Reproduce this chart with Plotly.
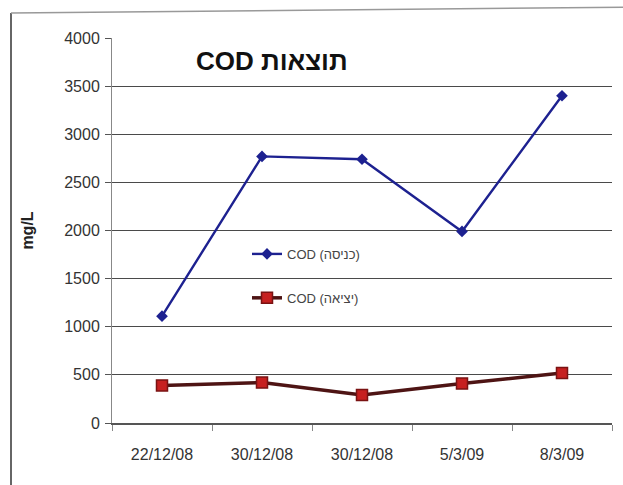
import plotly.graph_objects as go

# Sampling dates (two samples share the 30/12/08 date)
dates = ["22/12/08", "30/12/08", "30/12/08", "5/3/09", "8/3/09"]
# COD at the inlet and at the outlet, mg/L
cod_inlet = [1110, 2770, 2740, 1990, 3400]
cod_outlet = [390, 420, 290, 410, 520]
y_ticks = [0, 500, 1000, 1500, 2000, 2500, 3000, 3500, 4000]

positions = list(range(len(dates)))

fig = go.Figure()
fig.add_trace(go.Scatter(
    x=positions, y=cod_inlet, mode="lines+markers", name="COD (כניסה)",
    legendgroup="in",
    line=dict(color="#1d2190", width=2.4),
    marker=dict(symbol="diamond", size=9, color="#1d2190"),
))
fig.add_trace(go.Scatter(
    x=positions, y=cod_outlet, mode="lines+markers", name="COD (יציאה)",
    legendgroup="out",
    line=dict(color="#4e1414", width=3.5),
    marker=dict(symbol="square", size=11, color="#c62020",
                line=dict(color="#7a1212", width=1.5)),
))

axis_font = dict(family="Liberation Sans, Arial, sans-serif", size=16, color="#333")

fig.update_layout(
    width=623, height=485,
    margin=dict(l=112, r=11, t=38, b=62),
    paper_bgcolor="white", plot_bgcolor="white",
    showlegend=True,
    legend=dict(
        x=0.27, y=0.478, xanchor="left", yanchor="top",
        bgcolor="rgba(0,0,0,0)", traceorder="grouped", tracegroupgap=24,
        font=dict(family="Liberation Sans, Arial, sans-serif", size=13, color="#444"),
    ),
    xaxis=dict(
        range=[-0.5, 4.5], tickvals=positions, ticktext=dates,
        ticks="", showgrid=False, zeroline=False,
        showline=True, linecolor="#555", linewidth=1.5,
        tickfont=axis_font, ticklabelstandoff=16,
        minor=dict(tick0=-0.5, dtick=1, ticks="outside", ticklen=6,
                   tickcolor="#888", showgrid=False),
    ),
    yaxis=dict(
        range=[0, 4000], tickvals=y_ticks, ticks="outside", ticklen=6,
        tickcolor="#555", showgrid=True, gridcolor="#4a4a4a", gridwidth=1.4,
        zeroline=False, showline=True, linecolor="#888", linewidth=1,
        tickfont=axis_font, ticklabelstandoff=2,
        title=dict(text="<b>mg/L</b>", standoff=26,
                   font=dict(family="Liberation Sans, Arial, sans-serif", size=16, color="#222")),
    ),
    annotations=[dict(
        text="<b>COD תוצאות</b>", x=0.32, y=0.94, xref="paper", yref="paper",
        xanchor="center", yanchor="middle", showarrow=False,
        font=dict(family="Liberation Sans, Arial, sans-serif", size=26, color="#111"),
    )],
    shapes=[
        # outer chart frame (left and top edges)
        dict(type="line", xref="paper", yref="paper", x0=-0.202, x1=-0.202,
             y0=1.065, y1=-0.17, line=dict(color="#666", width=2)),
        dict(type="line", xref="paper", yref="paper", x0=-0.202, x1=1.03,
             y0=1.065, y1=1.08, line=dict(color="#999", width=1.5)),
    ],
)

fig.write_html("out.html")
